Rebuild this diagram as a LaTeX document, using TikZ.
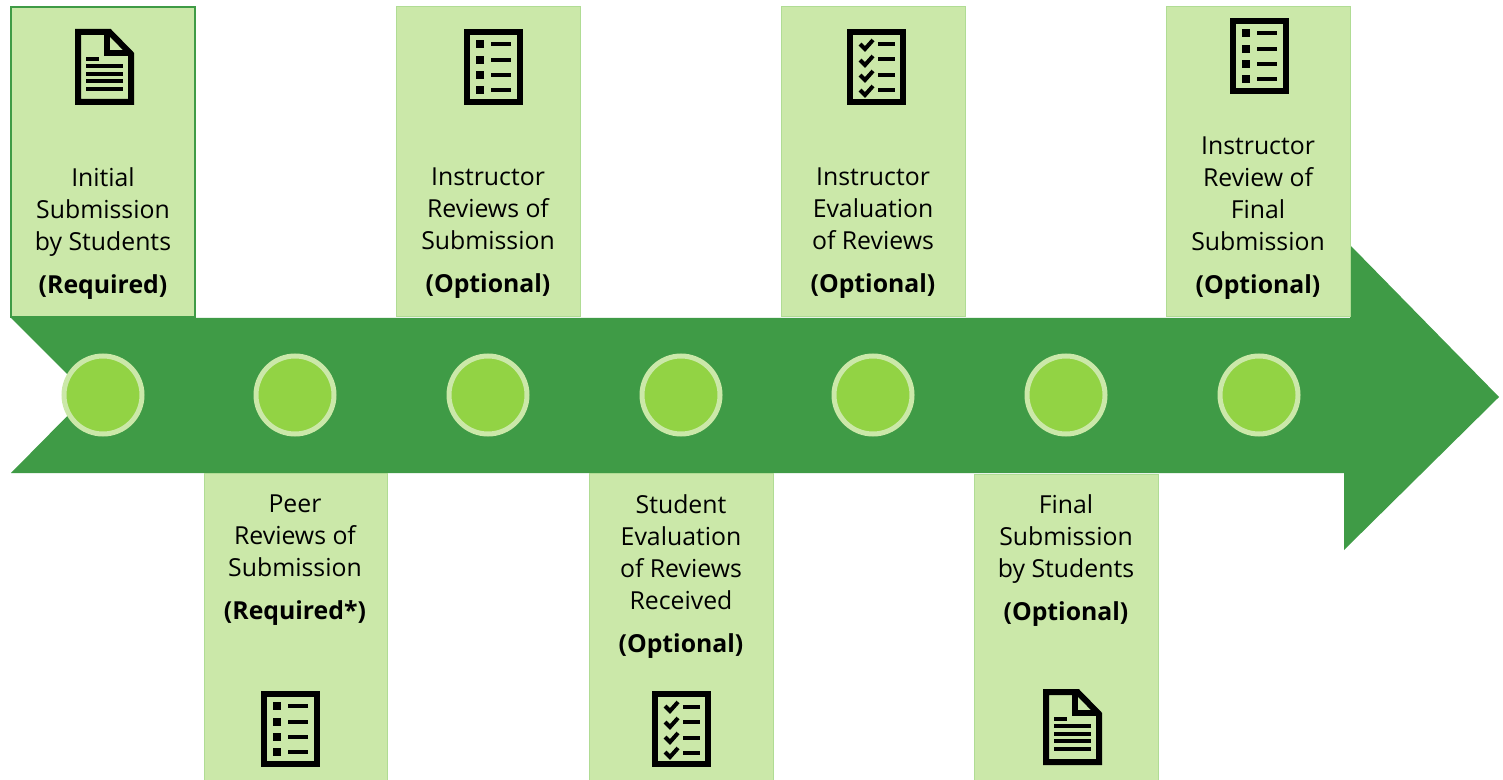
\documentclass[tikz,border=0pt]{standalone}
\usepackage{fontspec}
\setmainfont{Open Sans}
\usepackage{tikz}
\usetikzlibrary{positioning,calc}
\definecolor{barcol}{HTML}{3F9B46}
\definecolor{boxcol}{HTML}{CBE8A9}
\definecolor{boxline}{HTML}{B0DC94}
\definecolor{dotcol}{HTML}{92D344}
\tikzset{
  every picture/.style={x=0.5pt,y=-0.5pt},
  stepbox/.style={draw=boxline,fill=boxcol,line width=0.5pt},
  dotnode/.style={circle,draw=boxcol,fill=dotcol,line width=2.5pt,minimum size=39pt,inner sep=0pt},
  steptext/.style={align=center,font=\fontsize{12.4}{16}\selectfont,inner sep=0pt,anchor=north,execute at begin node=\strut},
  iconline/.style={draw=black,line width=3pt,miter limit=10},
  iconbar/.style={fill=black,draw=none},
  pics/docicon/.style={code={
    \draw[iconline] (3,3) -- (34.5,3) -- (56,25) -- (56,73) -- (3,73) -- cycle;
    \draw[iconline] (32,3) -- (32,24) -- (56,24);
    \fill[iconbar] (11,28) rectangle (24,32);
    \fill[iconbar] (11,35) rectangle (48,39);
    \fill[iconbar] (11,43) rectangle (48,47);
    \fill[iconbar] (11,50) rectangle (48,54);
    \fill[iconbar] (11,58) rectangle (48,62);
  }},
  pics/listicon/.style={code={
    \draw[iconline] (3,3) rectangle (56,73);
    \fill[iconbar] (12,11) rectangle (20,19);
    \fill[iconbar] (12,27) rectangle (20,35);
    \fill[iconbar] (12,42) rectangle (20,50);
    \fill[iconbar] (12,57) rectangle (20,65);
    \fill[iconbar] (27,13) rectangle (47,17);
    \fill[iconbar] (27,29) rectangle (47,33);
    \fill[iconbar] (27,44) rectangle (47,48);
    \fill[iconbar] (27,59) rectangle (47,63);
  }},
  pics/checkicon/.style={code={
    \draw[iconline] (3,3) rectangle (56,73);
    \draw[line width=2pt] (13,15) -- (18,20) -- (26,11);
    \draw[line width=2pt] (13,31) -- (18,36) -- (26,27);
    \draw[line width=2pt] (13,46) -- (18,51) -- (26,42);
    \draw[line width=2pt] (13,61) -- (18,66) -- (26,57);
    \fill[iconbar] (31,13.5) rectangle (48,17.5);
    \fill[iconbar] (31,28.5) rectangle (48,32.5);
    \fill[iconbar] (31,44.5) rectangle (48,48.5);
    \fill[iconbar] (31,59.5) rectangle (48,63.5);
  }},
}
\begin{document}
\begin{tikzpicture}
\useasboundingbox (0,0) rectangle (1503,780);
% arrow
\fill[barcol] (11,318) -- (1350,318) -- (1350,245) -- (1499,397) -- (1344,550) -- (1344,473) -- (11,473) -- (88,395) -- cycle;
% upper boxes
\draw[stepbox,draw=barcol,line width=1pt] (11,7) rectangle (195,317);
\draw[stepbox] (396,7) rectangle (580,317);
\draw[stepbox] (781,7) rectangle (965,317);
\draw[stepbox] (1166,7) rectangle (1350,317);
% lower boxes
\draw[stepbox] (204,473) rectangle (387,781);
\draw[stepbox] (589,473) rectangle (773,781);
\draw[stepbox] (974,474) rectangle (1158,781);
% dots
\node[dotnode] (dotA) at (103,395) {};
\node[dotnode] (dotB) at (295,395) {};
\node[dotnode] (dotC) at (488,395) {};
\node[dotnode] (dotD) at (681,395) {};
\node[dotnode] (dotE) at (873,395) {};
\node[dotnode] (dotF) at (1066,395) {};
\node[dotnode] (dotG) at (1259,395) {};
% icons
\pic at (75,29) {docicon};
\pic at (464,29) {listicon};
\pic at (847,29) {checkicon};
\pic at (1230,18) {listicon};
\pic at (261,691) {listicon};
\pic at (652,691) {checkicon};
\pic at (1043,689) {docicon};
% labels
\node[steptext] (textA) at (103,167.6) {Initial\\Submission\\by Students\\[5.5pt]\textbf{(Required)}};
\node[steptext] (textC) at (488,167.6) {Instructor\\Reviews of\\Submission\\[5.5pt]\textbf{(Optional)}};
\node[steptext] (textE) at (873,167.6) {Instructor\\Evaluation\\of Reviews\\[5.5pt]\textbf{(Optional)}};
\node[steptext] (textG) at (1258,136.6) {Instructor\\Review of\\Final\\Submission\\[5.5pt]\textbf{(Optional)}};
\node[steptext] (textB) at (295,494.6) {Peer\\Reviews of\\Submission\\[5.5pt]\textbf{(Required*)}};
\node[steptext] (textD) at (681,494.6) {Student\\Evaluation\\of Reviews\\Received\\[5.5pt]\textbf{(Optional)}};
\node[steptext] (textF) at (1066,494.6) {Final\\Submission\\by Students\\[5.5pt]\textbf{(Optional)}};
\end{tikzpicture}
\end{document}
